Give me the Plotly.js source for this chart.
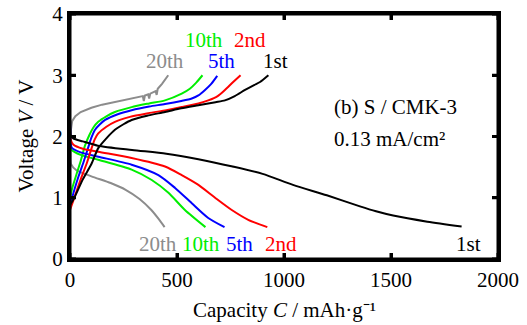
<!DOCTYPE html>
<html>
<head>
<meta charset="utf-8">
<script src="https://cdn.plot.ly/plotly-3.0.1.min.js"></script>
<style>
  html, body { margin: 0; padding: 0; background: #fff; }
  #chart { width: 527px; height: 325px; }
</style>
</head>
<body>
<div id="chart"></div>
<script>
// Galvanostatic discharge/charge profiles of S / CMK-3 at 0.13 mA/cm²
// Capacity in mAh/g, voltage in V

// Discharge branches
const dis1stCap = [0, 1, 3, 15, 60, 130, 290, 450, 600, 760, 900, 1042, 1200, 1355, 1430, 1510, 1670, 1830];
const dis1stV   = [2.33, 2.1, 2.02, 1.97, 1.92, 1.85, 1.78, 1.72, 1.63, 1.51, 1.39, 1.21, 1.04, 0.86, 0.78, 0.71, 0.61, 0.53];

const dis2ndCap = [0, 3, 15, 60, 132, 288, 444, 522, 600, 678, 756, 833, 922];
const dis2ndV   = [2.2, 1.95, 1.87, 1.80, 1.75, 1.65, 1.51, 1.37, 1.21, 1.0, 0.80, 0.64, 0.52];

const dis5thCap = [0, 3, 8, 50, 132, 288, 413, 491, 569, 646, 722];
const dis5thV   = [2.27, 1.95, 1.82, 1.74, 1.67, 1.54, 1.37, 1.16, 0.91, 0.67, 0.52];

const dis10thCap = [0, 8, 50, 132, 288, 382, 460, 537, 633];
const dis10thV   = [1.85, 1.78, 1.70, 1.62, 1.46, 1.29, 1.08, 0.80, 0.52];

const dis20thCap = [0, 2, 5, 30, 100, 190, 260, 325, 380, 415, 442];
const dis20thV   = [2.1, 1.7, 1.55, 1.45, 1.35, 1.24, 1.13, 0.98, 0.80, 0.65, 0.52];

// Charge branches
const chg1stCap = [0, 20, 60, 100, 132, 170, 210, 250, 288, 360, 444, 520, 600, 680, 724, 770, 818, 860, 888, 927];
const chg1stV   = [0.88, 1.0, 1.3, 1.55, 1.81, 1.97, 2.11, 2.2, 2.27, 2.34, 2.40, 2.46, 2.51, 2.56, 2.59, 2.66, 2.76, 2.84, 2.89, 3.0];

const chg2ndCap = [0, 15, 50, 80, 101, 115, 132, 170, 210, 280, 366, 450, 522, 600, 646, 690, 724, 760, 797];
const chg2ndV   = [0.8, 0.95, 1.3, 1.58, 1.81, 1.95, 2.05, 2.16, 2.24, 2.32, 2.38, 2.43, 2.48, 2.54, 2.59, 2.66, 2.76, 2.88, 3.0];

const chg5thCap = [0, 10, 40, 65, 86, 100, 117, 140, 164, 220, 288, 370, 444, 520, 569, 600, 631, 660, 688];
const chg5thV   = [0.85, 1.0, 1.35, 1.6, 1.83, 1.98, 2.11, 2.2, 2.27, 2.36, 2.43, 2.49, 2.53, 2.58, 2.62, 2.67, 2.76, 2.86, 2.99];

const chg10thCap = [0, 10, 30, 50, 70, 90, 110, 132, 170, 210, 288, 370, 444, 522, 560, 590, 619];
const chg10thV   = [0.98, 1.15, 1.38, 1.6, 1.85, 2.02, 2.15, 2.24, 2.33, 2.40, 2.48, 2.54, 2.59, 2.70, 2.78, 2.88, 3.0];

const chg20thCap = [0, 2, 4, 10, 25, 50, 100, 150, 200, 250, 300, 340, 345, 350, 365, 370, 375, 390, 400, 405, 410, 430, 445, 459];
const chg20thV   = [1.55, 1.85, 2.1, 2.25, 2.33, 2.4, 2.47, 2.52, 2.56, 2.6, 2.63, 2.66, 2.58, 2.67, 2.69, 2.62, 2.70, 2.73, 2.74, 2.68, 2.78, 2.86, 2.93, 3.0];

// Axis ticks
const capTicks = [0, 500, 1000, 1500, 2000];
const voltTicks = [0, 1, 2, 3, 4];

const cycleColors = {"1st": "#000000", "2nd": "#ff0000", "5th": "#0000ff", "10th": "#00ee00", "20th": "#8c8c8c"};

const serif = "Liberation Serif";

function branch(xs, ys, name, smooth) {
  return {
    x: xs, y: ys, name: name, type: "scatter", mode: "lines",
    line: {color: cycleColors[name], width: 2, shape: smooth ? "spline" : "linear", smoothing: 0.7},
    hoverinfo: "skip", showlegend: false
  };
}

const traces = [
  branch(dis20thCap, dis20thV, "20th", true),
  branch(chg20thCap, chg20thV, "20th", false),
  branch(dis10thCap, dis10thV, "10th", true),
  branch(chg10thCap, chg10thV, "10th", true),
  branch(dis5thCap, dis5thV, "5th", true),
  branch(chg5thCap, chg5thV, "5th", true),
  branch(dis2ndCap, dis2ndV, "2nd", true),
  branch(chg2ndCap, chg2ndV, "2nd", true),
  branch(dis1stCap, dis1stV, "1st", true),
  branch(chg1stCap, chg1stV, "1st", true)
];

function cycleLabel(text, x, y) {
  return {
    text: text, x: x, y: y, xref: "x", yref: "y", showarrow: false,
    xanchor: "center", yanchor: "middle",
    font: {family: serif, size: 21, color: cycleColors[text]}
  };
}

const annotations = [
  // labels at the end of the charge branches
  cycleLabel("10th", 628, 3.58),
  cycleLabel("2nd", 841, 3.58),
  cycleLabel("20th", 442, 3.24),
  cycleLabel("5th", 708, 3.24),
  cycleLabel("1st", 962, 3.24),
  // labels at the end of the discharge branches
  cycleLabel("20th", 409, 0.24),
  cycleLabel("10th", 614, 0.24),
  cycleLabel("5th", 794, 0.24),
  cycleLabel("2nd", 984, 0.24),
  cycleLabel("1st", 1862, 0.24),
  // sample and current density
  {
    text: "(b) S / CMK-3", x: 1225, y: 2.48, xref: "x", yref: "y", showarrow: false,
    xanchor: "left", yanchor: "middle", font: {family: serif, size: 21, color: "#000"}
  },
  {
    text: "0.13 mA/cm²", x: 1225, y: 1.96, xref: "x", yref: "y", showarrow: false,
    xanchor: "left", yanchor: "middle", font: {family: serif, size: 21, color: "#000"}
  },
  // axis titles
  {
    text: "Capacity <i>C</i> / mAh·g⁻¹", x: 0.5, y: -0.2098, xref: "paper", yref: "paper", showarrow: false,
    xanchor: "center", yanchor: "middle", font: {family: serif, size: 21, color: "#000"}
  },
  {
    text: "Voltage <i>V</i> / V", x: -0.1051, y: 0.5, xref: "paper", yref: "paper", showarrow: false,
    xanchor: "center", yanchor: "middle", textangle: -90, font: {family: serif, size: 21, color: "#000"}
  }
];

// frame and inward tick marks on all four sides
const tickLenX = 6 / 245.5;   // paper fraction of plot height
const tickLenY = 6 / 428;     // paper fraction of plot width
const frameShapes = [{
  type: "rect", xref: "paper", yref: "paper", x0: 0, x1: 1, y0: 0, y1: 1,
  line: {color: "#000", width: 3}, fillcolor: "rgba(0,0,0,0)"
}];
capTicks.forEach(function (v) {
  frameShapes.push({type: "line", xref: "x", yref: "paper", x0: v, x1: v, y0: 0, y1: tickLenX, line: {color: "#000", width: 3}});
  frameShapes.push({type: "line", xref: "x", yref: "paper", x0: v, x1: v, y0: 1, y1: 1 - tickLenX, line: {color: "#000", width: 3}});
});
voltTicks.forEach(function (v) {
  frameShapes.push({type: "line", xref: "paper", yref: "y", x0: 0, x1: tickLenY, y0: v, y1: v, line: {color: "#000", width: 3}});
  frameShapes.push({type: "line", xref: "paper", yref: "y", x0: 1, x1: 1 - tickLenY, y0: v, y1: v, line: {color: "#000", width: 3}});
});

const axisCommon = {
  showline: true, linewidth: 3, linecolor: "#000", mirror: "ticks",
  ticks: "inside", ticklen: 6, tickwidth: 3, tickcolor: "#000",
  showgrid: false, zeroline: false, automargin: false
};

const layout = {
  width: 527, height: 325,
  margin: {l: 70, r: 29, t: 14, b: 66},
  font: {family: serif, size: 21, color: "#000"},
  xaxis: Object.assign({range: [0, 2000], tickvals: capTicks}, axisCommon),
  yaxis: Object.assign({range: [0, 4], tickvals: voltTicks}, axisCommon),
  shapes: frameShapes,
  annotations: annotations
};

Plotly.newPlot("chart", traces, layout, {displayModeBar: false});
</script>
</body>
</html>
